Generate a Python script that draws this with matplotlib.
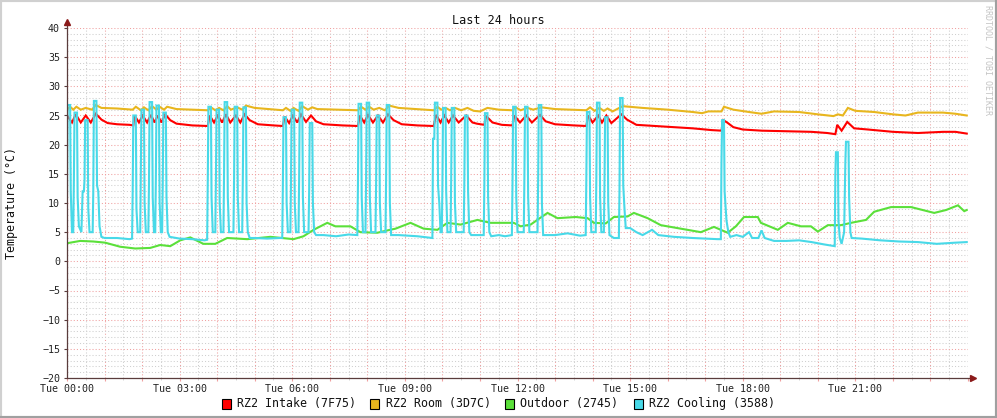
import matplotlib.pyplot as plt
from matplotlib.patches import Rectangle
from matplotlib.lines import Line2D
from matplotlib.ticker import MultipleLocator, FuncFormatter

# minutes after Tue 00:00 / temperature in deg C
intake_t = [0, 8, 14, 22, 30, 38, 46, 55, 65, 80, 100, 106,
            108, 115, 121, 128, 134, 140, 145, 151, 157, 165, 175, 200, 225,
            228, 235, 241, 248, 254, 261, 270, 277, 284, 292, 305, 330, 345,
            348, 355, 361, 368, 374, 382, 390, 398, 410, 440, 465,
            468, 475, 481, 489, 497, 505, 513, 522, 535, 560, 586,
            590, 597, 603, 610, 617, 626, 638, 648, 655, 667,
            670, 680, 695, 712,
            715, 724, 734, 743, 756, 765, 780, 810, 830,
            833, 840, 849, 855, 862, 870, 886, 895, 910, 940, 970, 1000, 1030, 1046,
            1049, 1055, 1065, 1080, 1110, 1150, 1190, 1215, 1228,
            1231, 1238, 1247, 1258, 1280, 1320, 1360, 1400, 1420, 1438]
intake_v = [25.0, 23.8, 25.2, 23.8, 25.0, 23.8, 25.3, 24.3, 23.7, 23.5, 23.4, 23.3,
            25.0, 23.8, 25.0, 23.8, 25.1, 23.8, 25.0, 23.8, 25.2, 24.2, 23.6, 23.3, 23.2,
            25.0, 23.8, 25.0, 23.8, 25.2, 23.8, 25.0, 23.8, 25.2, 24.2, 23.5, 23.3, 23.2,
            24.8, 23.7, 25.0, 23.8, 25.2, 23.9, 25.0, 24.0, 23.5, 23.3, 23.2,
            25.0, 23.8, 25.1, 23.8, 25.0, 23.8, 25.2, 24.2, 23.5, 23.3, 23.2,
            25.1, 23.8, 25.0, 23.8, 25.0, 23.8, 25.0, 23.8, 23.6, 23.4,
            24.9, 23.8, 23.4, 23.3,
            25.0, 23.8, 25.0, 23.8, 25.1, 24.0, 23.5, 23.3, 23.2,
            25.0, 23.8, 25.0, 23.8, 25.0, 23.7, 25.2, 24.3, 23.4, 23.2, 23.0, 22.8, 22.5, 22.4,
            24.2, 23.8, 23.0, 22.6, 22.4, 22.3, 22.2, 22.0, 21.8,
            23.4, 22.4, 23.9, 22.8, 22.6, 22.2, 22.0, 22.2, 22.2, 21.9]

room_t = [0, 5, 10, 15, 22, 30, 40, 46, 55, 80, 105,
          110, 118, 123, 130, 136, 143, 148, 155, 160, 175, 225,
          230, 237, 243, 250, 256, 262, 272, 280, 286, 300, 345,
          350, 357, 362, 370, 376, 385, 392, 400, 465,
          470, 477, 483, 490, 499, 508, 515, 530, 586,
          592, 598, 605, 612, 620, 630, 640, 650, 660, 672, 690, 712,
          717, 725, 736, 745, 758, 780, 830,
          836, 843, 851, 858, 864, 872, 888, 920, 960, 1000, 1015, 1025, 1046,
          1050, 1065, 1090, 1110, 1130, 1170, 1200, 1225,
          1232, 1240, 1248, 1260, 1290, 1320, 1340, 1360, 1400, 1420, 1438]
room_v = [26.0, 26.5, 26.0, 26.5, 26.0, 26.3, 26.0, 26.8, 26.3, 26.2, 26.0,
          26.5, 25.9, 26.4, 25.9, 26.6, 26.0, 26.5, 26.0, 26.5, 26.1, 25.9,
          26.4, 25.9, 26.3, 25.9, 26.6, 26.0, 26.4, 26.0, 26.7, 26.3, 25.9,
          26.3, 25.8, 26.3, 25.8, 26.6, 26.0, 26.4, 26.1, 25.9,
          26.5, 26.0, 26.5, 26.0, 26.3, 25.9, 26.7, 26.3, 25.9,
          26.5, 26.0, 26.3, 25.9, 26.3, 25.9, 26.3, 25.8, 25.7, 26.3, 26.0, 25.9,
          26.4, 25.9, 26.3, 26.0, 26.4, 26.1, 25.9,
          26.4, 25.8, 26.3, 25.8, 26.2, 25.7, 26.6, 26.3, 26.0, 25.6, 25.4, 25.7, 25.7,
          26.5, 26.0, 25.6, 25.3, 25.7, 25.6, 25.2, 24.9,
          25.2, 25.0, 26.3, 25.8, 25.6, 25.2, 25.0, 25.5, 25.5, 25.3, 25.0]

outdoor_t = [0, 21, 42, 61, 85, 109, 133, 149, 165, 181, 197, 218, 237, 256, 288,
             325, 362, 378, 394, 416, 429, 453, 469, 496, 512, 525, 549, 570, 592, 608,
             629, 656, 677, 714, 725, 741, 757, 768, 784, 813, 832, 842, 861, 874, 896,
             906, 928, 949, 981, 1013, 1034, 1056, 1069, 1082, 1104, 1109, 1136, 1152, 1173, 1189,
             1200, 1216, 1237, 1253, 1277, 1290, 1317, 1349, 1386, 1405, 1424, 1434, 1438]
outdoor_v = [3.1, 3.5, 3.4, 3.2, 2.5, 2.2, 2.3, 2.8, 2.6, 3.6, 4.1, 3.0, 3.0, 4.0, 3.8,
             4.2, 3.8, 4.3, 5.4, 6.6, 6.0, 6.0, 5.0, 4.9, 5.3, 5.6, 6.6, 5.6, 5.4, 6.6,
             6.3, 7.1, 6.6, 6.6, 6.0, 6.3, 7.5, 8.3, 7.4, 7.6, 7.4, 6.6, 6.5, 7.6, 7.7,
             8.3, 7.4, 6.2, 5.6, 5.0, 5.9, 4.9, 6.0, 7.6, 7.6, 6.6, 5.4, 6.6, 6.0, 6.0,
             5.1, 6.2, 6.2, 6.6, 7.1, 8.5, 9.3, 9.3, 8.3, 8.8, 9.6, 8.6, 8.8]

cooling_t = [0, 1, 5, 6, 8, 10, 11, 12, 16, 17, 19, 23, 25, 27, 28, 29, 33, 34, 36, 41, 42, 43, 47, 48, 50, 52, 55,
             60, 80, 100, 104,
             105, 106, 110, 111, 113, 117, 118, 119, 123, 124, 126, 130, 131, 132, 136, 137, 139, 141, 142, 143,
             147, 148, 150, 152, 153, 154, 158, 159, 161, 164,
             180, 200, 220, 224,
             225, 226, 230, 231, 233, 237, 238, 239, 243, 244, 246, 250, 251, 252, 256, 257, 259, 266, 267, 268,
             272, 273, 275, 280, 281, 282, 286, 287, 289, 292,
             300, 320, 340, 344,
             345, 346, 350, 351, 353, 357, 358, 359, 363, 364, 366, 370, 371, 372, 376, 377, 379, 386, 387, 388,
             392, 393, 395, 398,
             410, 430, 450, 464,
             465, 466, 470, 471, 473, 477, 478, 479, 483, 484, 486, 493, 494, 495, 499, 500, 502, 509, 510, 511,
             515, 516, 518,
             530, 560, 584,
             585, 587, 588, 592, 593, 595, 597, 599, 600, 601, 605, 606, 608, 613, 614, 615, 619, 620, 622, 634,
             635, 636, 640, 641, 643, 646,
             655, 666,
             667, 668, 672, 673, 675, 678,
             690, 700, 711,
             712, 713, 717, 718, 720, 730, 731, 732, 736, 737, 739, 752, 753, 754, 758, 759, 761,
             780, 800, 820, 829,
             830, 831, 835, 836, 838, 845, 846, 847, 851, 852, 854, 858, 859, 860, 864, 865, 867, 874, 882, 883,
             884, 888, 889, 891, 893,
             900, 910, 920, 935, 945, 970, 1000, 1020, 1040, 1045,
             1046, 1047, 1050, 1051, 1054, 1057, 1060,
             1070, 1080, 1090, 1095, 1105, 1110, 1115, 1130, 1150, 1170, 1190, 1210, 1227,
             1228, 1229, 1232, 1233, 1235, 1238, 1242, 1244, 1245, 1249, 1250, 1252, 1254,
             1270, 1300, 1330, 1360, 1390, 1420, 1438]
cooling_v = [11, 26.8, 26.8, 12, 5, 5, 14, 25.5, 25.5, 11, 6, 5, 12, 12, 14, 24.2, 24.2, 9, 5, 5, 12, 27.5, 27.5, 13, 12, 6, 4.2,
             4.0, 4.0, 3.8, 3.9,
             12, 25, 25, 9, 5, 5, 16, 26, 26, 10, 5, 5, 13, 27.3, 27.3, 11, 5, 5, 14, 26.7,
             26.7, 10, 5, 5, 13, 25.5, 25.5, 11, 5, 4.2,
             3.9, 3.8, 3.6, 3.7,
             14, 26.5, 26.5, 11, 5, 5, 14, 26, 26, 10, 5, 5, 15, 27.3, 27.3, 11, 5, 5, 14, 26.5,
             26.5, 11, 5, 5, 14, 26.4, 26.4, 10, 5, 4,
             4.0, 3.9, 4.0, 4.0,
             13, 24.7, 24.7, 10, 5, 5, 14, 26, 26, 10, 5, 5, 14, 27.2, 27.2, 11, 5, 5, 12, 23.7,
             23.7, 10, 5, 4.5,
             4.5, 4.3, 4.6, 4.5,
             13, 27, 27, 11, 5, 5, 14, 27.2, 27.2, 11, 5, 5, 13, 25, 25, 10, 5, 5, 14, 26.8,
             26.8, 10, 4.5,
             4.5, 4.3, 4.0,
             21, 21, 27.2, 27.2, 13, 10, 5, 5, 13, 26.3, 26.3, 12, 5, 5, 14, 26.3, 26.3, 10, 5, 5,
             13, 25, 25, 12, 5, 4.5,
             4.5, 4.5,
             13, 25.4, 25.4, 11, 5, 4.3,
             4.5, 4.3, 4.5,
             13, 26.5, 26.5, 11, 5, 5, 14, 26.5, 26.5, 11, 5, 5, 14, 26.8, 26.8, 10, 4.5,
             4.5, 4.8, 4.4, 4.5,
             14, 25.6, 25.6, 11, 5, 5, 14, 27.2, 27.2, 11, 5, 5, 13, 24.7, 24.7, 10, 4.5, 4, 4, 12,
             28, 28, 13, 9, 5.7,
             5.7, 5.0, 4.5, 5.4, 4.5, 4.2, 4.0, 3.9, 3.8, 3.8,
             17, 24.2, 24.2, 12, 7, 5, 4.2,
             4.5, 4.2, 5.0, 4.0, 4.0, 5.3, 4.0, 3.5, 3.5, 3.6, 3.3, 2.9, 2.6,
             15, 18.7, 18.7, 7, 4, 3.0, 5, 17, 20.5, 20.5, 11, 5, 4.0,
             3.9, 3.6, 3.4, 3.3, 3.0, 3.2, 3.3]

labels = ["RZ2 Intake (7F75)", "RZ2 Room (3D7C)", "Outdoor (2745)", "RZ2 Cooling (3588)"]
colors = ["#ff0000", "#e8b61e", "#5be03a", "#48d9e8"]

mono = "DejaVu Sans Mono"
axis_col = "#5a3c3c"

fig = plt.figure(figsize=(9.97, 4.18), dpi=100)
ax = fig.add_axes([67 / 997, 40 / 418, 901 / 997, 350 / 418])

# series, cooling drawn last (on top)
series = [(intake_t, intake_v), (room_t, room_v), (outdoor_t, outdoor_v), (cooling_t, cooling_v)]
for (t, v), c in zip(series, colors):
    ax.plot(t, v, color=c, lw=1.5, solid_joinstyle="miter")

ax.set_xlim(0, 1440)
ax.set_ylim(-20, 40)

# grid like rrdtool: grey minor, pink major, dotted
ax.xaxis.set_major_locator(MultipleLocator(60))
ax.xaxis.set_minor_locator(MultipleLocator(30))
ax.yaxis.set_major_locator(MultipleLocator(5))
ax.yaxis.set_minor_locator(MultipleLocator(1))
ax.grid(which="minor", color="#cfcfcf", linestyle=(0, (1, 2)), lw=0.75)
ax.grid(which="major", color="#f0a0a0", linestyle=(0, (1, 2)), lw=0.75)
ax.set_axisbelow(True)

ax.xaxis.set_major_formatter(FuncFormatter(
    lambda v, p: f"Tue {int(v // 60):02d}:00" if v % 180 == 0 and v < 1440 else ""))
ax.tick_params(axis="x", which="major", length=2.5, color="#f0a0a0", pad=1.5,
               labelsize=7.2, labelcolor="#222222")
ax.tick_params(axis="x", which="minor", length=1.5, color="#cfcfcf")
ax.tick_params(axis="y", which="major", length=2.5, color=axis_col, pad=2.5,
               labelsize=7.2, labelcolor="#222222")
ax.tick_params(axis="y", which="minor", length=0)
for lab in ax.get_xticklabels() + ax.get_yticklabels():
    lab.set_family(mono)

for s in ["top", "right", "left", "bottom"]:
    ax.spines[s].set_visible(False)

# axes with arrows
ax.plot([0, 0], [0, 1.018], transform=ax.transAxes, color=axis_col, lw=0.9, clip_on=False)
ax.plot([0, 1.006], [0, 0], transform=ax.transAxes, color=axis_col, lw=0.9, clip_on=False)
ax.plot(0, 1.018, marker="^", ms=4, color="#8b1a1a", transform=ax.transAxes, clip_on=False)
ax.plot(1.006, 0, marker=">", ms=4, color="#8b1a1a", transform=ax.transAxes, clip_on=False)

fig.text(0.5, 1 - 20 / 418, "Last 24 hours", ha="center", va="center",
         family=mono, fontsize=8.5, color="#111111")
fig.text(11 / 997, 1 - 203 / 418, "Temperature (°C)", rotation=90, ha="center", va="center",
         family=mono, fontsize=8.4, color="#111111")
fig.text(988 / 997, 1 - 60 / 418, "RRDTOOL / TOBI OETIKER", rotation=270, ha="center",
         va="center", family=mono, fontsize=6, color="#c4c4c4")

# legend
sq_x = [222, 370, 505, 634]
txt_x = [237, 386, 520, 649]
for lab, c, sx, tx in zip(labels, colors, sq_x, txt_x):
    fig.patches.append(Rectangle((sx / 997, (418 - 409) / 418), 9 / 997, 10 / 418,
                                 transform=fig.transFigure, facecolor=c,
                                 edgecolor="black", lw=0.8))
    fig.text(tx / 997, 1 - 404 / 418, lab, ha="left", va="center",
             family=mono, fontsize=8.4, color="#111111")

# 3d-ish image frame
fig.add_artist(Line2D([0, 1], [1, 1], transform=fig.transFigure, color="#d0d0d0", lw=3))
fig.add_artist(Line2D([0, 0], [0, 1], transform=fig.transFigure, color="#d0d0d0", lw=3))
fig.add_artist(Line2D([0, 1], [0, 0], transform=fig.transFigure, color="#a0a0a0", lw=3))
fig.add_artist(Line2D([1, 1], [0, 1], transform=fig.transFigure, color="#a0a0a0", lw=3))

fig.savefig("out.png", dpi=100, facecolor="white")
